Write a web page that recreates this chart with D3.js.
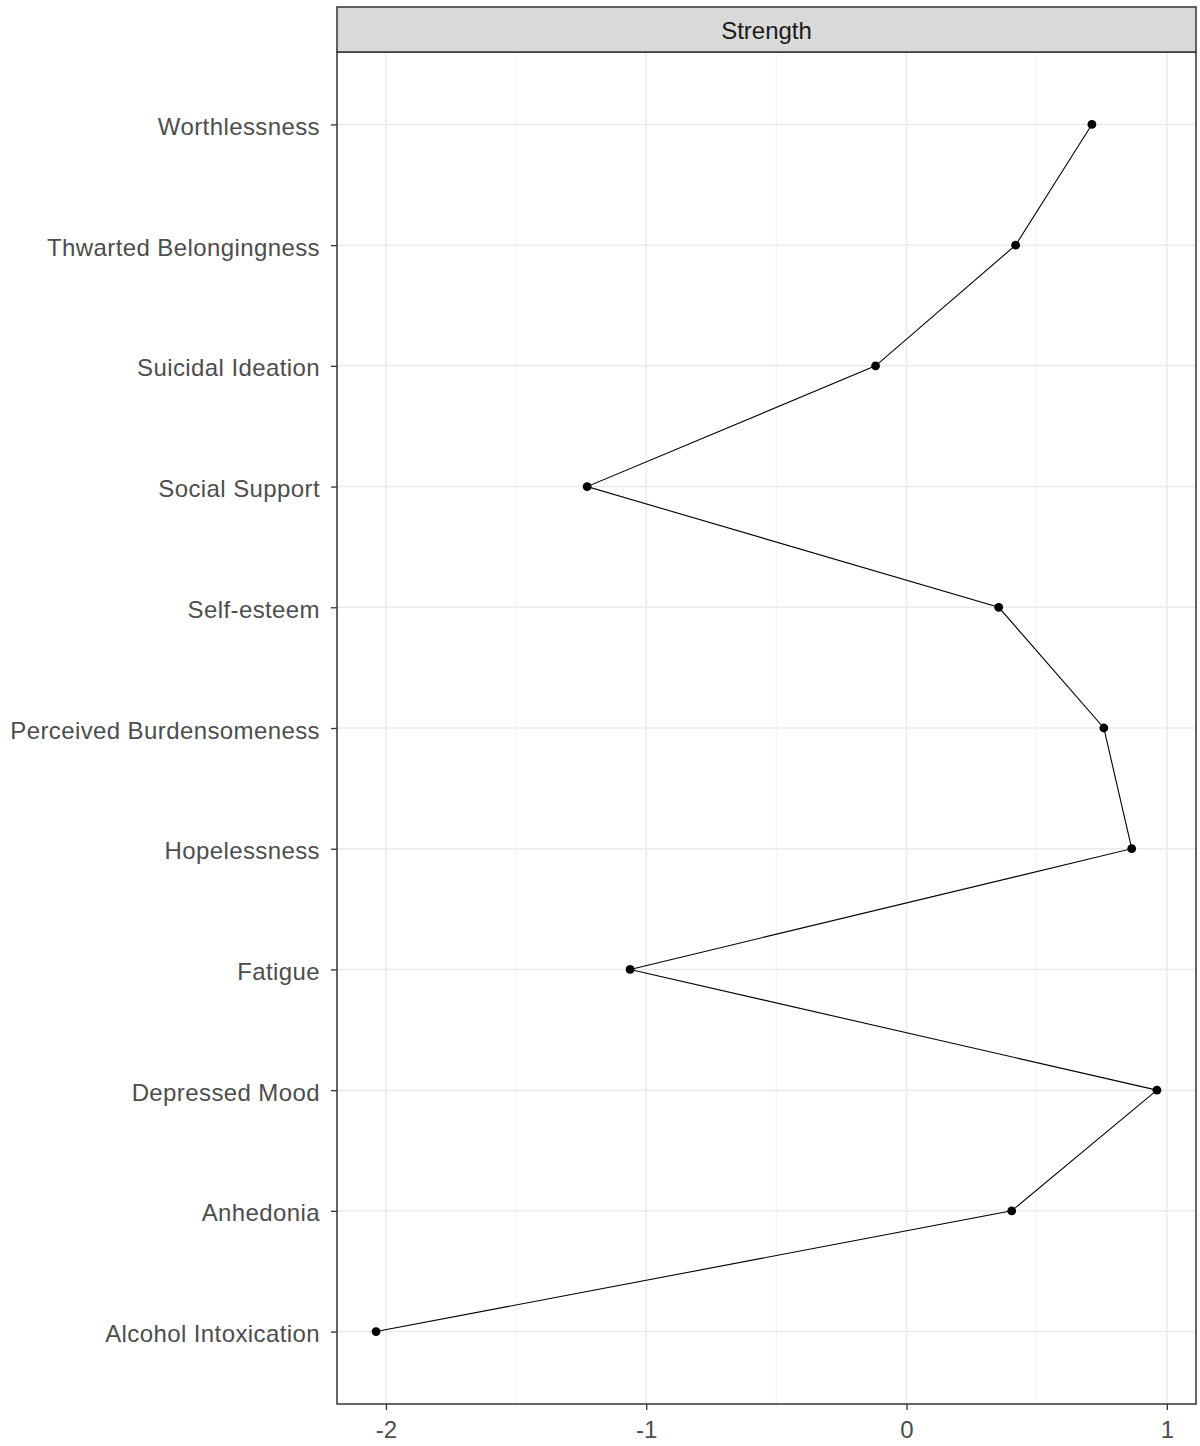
<!DOCTYPE html>
<html>
<head>
<meta charset="utf-8">
<script src="https://cdn.jsdelivr.net/npm/d3@7"></script>
<style>
  body { margin: 0; background: #fff; }
  text { font-family: "Liberation Sans", Arial, sans-serif; }
</style>
</head>
<body>
<div id="vis"></div>
<script>
// categorias de arriba hacia abajo
const NODES = ["Worthlessness", "Thwarted Belongingness", "Suicidal Ideation", "Social Support",
  "Self-esteem", "Perceived Burdensomeness", "Hopelessness", "Fatigue", "Depressed Mood",
  "Anhedonia", "Alcohol Intoxication"];
const STRENGTH = [0.712, 0.419, -0.119, -1.227, 0.354, 0.758, 0.865, -1.062, 0.962, 0.404, -2.038];
const X_TICKS = [-2, -1, 0, 1];
const X_MINOR = [-1.5, -0.5, 0.5];
const PANEL_TITLE = "Strength";

const WIDTH = 1200;
const HEIGHT = 1446;
const MARGIN = { top: 7, right: 4, bottom: 42, left: 337 };
const STRIP_H = 45;
const FONT = 24;

const SVG = d3.select("#vis").append("svg").attr("width", WIDTH).attr("height", HEIGHT);

const datos = NODES.map((n, i) => ({ node: n, value: STRENGTH[i] }));

const x0 = MARGIN.left, x1 = WIDTH - MARGIN.right;
const yTop = MARGIN.top + STRIP_H, yBot = HEIGHT - MARGIN.bottom;

// escala x con expansion 5% como ggplot
const ext = d3.extent(STRENGTH);
const pad = (ext[1] - ext[0]) * 0.05;
const x = d3.scaleLinear().domain([ext[0] - pad, ext[1] + pad]).range([x0, x1]);

// escala y discreta, expansion 0.6
const n = NODES.length;
const yLin = d3.scaleLinear().domain([0.4, n + 0.6]).range([yTop, yBot]);
const y = d => yLin(NODES.indexOf(d) + 1);

// grilla
const grid = SVG.append("g");
grid.selectAll(".minor").data(X_MINOR).join("line")
  .attr("x1", d => x(d)).attr("x2", d => x(d)).attr("y1", yTop).attr("y2", yBot)
  .attr("stroke", "#f0f0f0").attr("stroke-width", 0.8);
grid.selectAll(".major").data(X_TICKS).join("line")
  .attr("x1", d => x(d)).attr("x2", d => x(d)).attr("y1", yTop).attr("y2", yBot)
  .attr("stroke", "#ebebeb").attr("stroke-width", 1.5);
grid.selectAll(".hmajor").data(NODES).join("line")
  .attr("x1", x0).attr("x2", x1).attr("y1", d => y(d)).attr("y2", d => y(d))
  .attr("stroke", "#ebebeb").attr("stroke-width", 1.5);

// linea y puntos
const line = d3.line().x(d => x(d.value)).y(d => y(d.node));
SVG.append("path").datum(datos).attr("d", line)
  .attr("fill", "none").attr("stroke", "#000").attr("stroke-width", 1.1);
SVG.selectAll("circle").data(datos).join("circle")
  .attr("cx", d => x(d.value)).attr("cy", d => y(d.node)).attr("r", 4.4).attr("fill", "#000");

// borde panel
SVG.append("rect").attr("x", x0).attr("y", yTop).attr("width", x1 - x0).attr("height", yBot - yTop)
  .attr("fill", "none").attr("stroke", "#333").attr("stroke-width", 1.5);

// strip
SVG.append("rect").attr("x", x0).attr("y", MARGIN.top).attr("width", x1 - x0).attr("height", STRIP_H)
  .attr("fill", "#d9d9d9").attr("stroke", "#333").attr("stroke-width", 1.5);
SVG.append("text").attr("x", (x0 + x1) / 2).attr("y", MARGIN.top + STRIP_H / 2 + 9)
  .attr("text-anchor", "middle").attr("font-size", FONT).attr("fill", "#1a1a1a").text(PANEL_TITLE);

// ejes
const ax = SVG.append("g").attr("transform", `translate(0, ${yBot})`)
  .call(d3.axisBottom(x).tickValues(X_TICKS).tickSize(6).tickPadding(11).tickFormat(d => String(d)));
ax.select(".domain").remove();
ax.selectAll("line").attr("stroke", "#333").attr("stroke-width", 1.3);
ax.selectAll("text").attr("font-size", FONT).attr("fill", "#4d4d4d")
  .attr("font-family", "Liberation Sans, Arial, sans-serif");

const ay = SVG.append("g").attr("transform", `translate(${x0}, 0)`)
  .call(d3.axisLeft(d3.scalePoint().domain(NODES).range([y(NODES[0]), y(NODES[n - 1])]))
    .tickSize(6).tickPadding(11));
ay.select(".domain").remove();
ay.selectAll("line").attr("stroke", "#333").attr("stroke-width", 1.3);
ay.selectAll("text").attr("font-size", FONT).attr("fill", "#4d4d4d").attr("dy", "0.42em")
  .attr("letter-spacing", 0.4).attr("font-family", "Liberation Sans, Arial, sans-serif");
</script>
</body>
</html>
